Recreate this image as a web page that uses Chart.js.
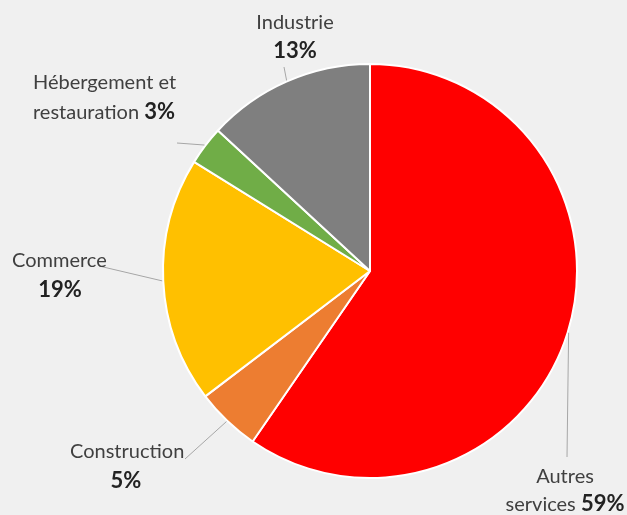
<!DOCTYPE html>
<html>
<head>
<meta charset="utf-8">
<script src="https://cdn.jsdelivr.net/npm/chart.js@4.4.0/dist/chart.umd.min.js"></script>
<style>
  html, body { margin: 0; background: #f0f0f0; }
  #wrap { width: 627px; height: 515px; }
</style>
</head>
<body>
<div id="wrap"><canvas id="pie"></canvas></div>
<script>
const categories = ['Autres services', 'Construction', 'Commerce', 'Hébergement et restauration', 'Industrie'];
const shares = [59, 5, 19, 3, 13];
const colors = ['#ff0000', '#ed7d31', '#ffc000', '#70ad47', '#7f7f7f'];

// label placement (text rows and where the leader line ends), one per slice
const labelLayout = [
  { align: 'center', x: 565, rows: [[['Autres']], [['services '], ['%', true]]], base: [483, 511], end: [567, 457] },
  { align: 'left', x: 70, rows: [[['Construction']], [['%', true]]], base: [458, 488], pctCenter: 126, end: [185, 459] },
  { align: 'left', x: 12, rows: [[['Commerce']], [['%', true]]], base: [267, 297], pctCenter: 60, end: [99, 266] },
  { align: 'left', x: 33, rows: [[['Hébergement et']], [['restauration '], ['%', true]]], base: [89, 119], end: [177, 143] },
  { align: 'center', x: 295, rows: [[['Industrie']], [['%', true]]], base: [29, 58], end: [284, 67] }
];

const FONT = 'Lato, "Open Sans", sans-serif';

const outsideLabels = {
  id: 'outsideLabels',
  afterDatasetsDraw(chart) {
    const ctx = chart.ctx;
    const meta = chart.getDatasetMeta(0);
    ctx.save();
    meta.data.forEach((arc, i) => {
      const p = arc.getProps(['x', 'y', 'startAngle', 'endAngle', 'outerRadius'], true);
      const mid = (p.startAngle + p.endAngle) / 2;
      const lay = labelLayout[i];

      // leader line
      ctx.strokeStyle = '#a6a6a6';
      ctx.lineWidth = 1;
      ctx.beginPath();
      ctx.moveTo(p.x + Math.cos(mid) * (p.outerRadius + 1), p.y + Math.sin(mid) * (p.outerRadius + 1));
      ctx.lineTo(lay.end[0], lay.end[1]);
      ctx.stroke();

      // text rows
      ctx.textBaseline = 'alphabetic';
      ctx.textAlign = 'left';
      lay.rows.forEach((row, r) => {
        const parts = row.map(([txt, bold]) => ({
          txt: txt === '%' ? shares[i] + '%' : txt,
          font: bold ? `bold 22px ${FONT}` : `20px ${FONT}`,
          color: bold ? '#222222' : '#404040'
        }));
        let total = 0;
        parts.forEach(pt => { ctx.font = pt.font; pt.w = ctx.measureText(pt.txt).width; total += pt.w; });
        let x = lay.x;
        if (lay.align === 'center') x = lay.x - total / 2;
        if (row.length === 1 && row[0][1] && lay.pctCenter) x = lay.pctCenter - total / 2;
        parts.forEach(pt => {
          ctx.font = pt.font;
          ctx.fillStyle = pt.color;
          ctx.fillText(pt.txt, x, lay.base[r]);
          x += pt.w;
        });
      });
    });
    ctx.restore();
  }
};

new Chart(document.getElementById('pie'), {
  type: 'pie',
  data: {
    labels: categories,
    datasets: [{
      data: shares,
      backgroundColor: colors,
      borderColor: '#ffffff',
      borderWidth: 2,
      hoverOffset: 0
    }]
  },
  options: {
    responsive: true,
    maintainAspectRatio: false,
    animation: false,
    layout: { padding: { left: 162, right: 49, top: 63, bottom: 36 } },
    plugins: {
      legend: { display: false },
      tooltip: { enabled: false }
    }
  },
  plugins: [outsideLabels]
});
</script>
</body>
</html>
